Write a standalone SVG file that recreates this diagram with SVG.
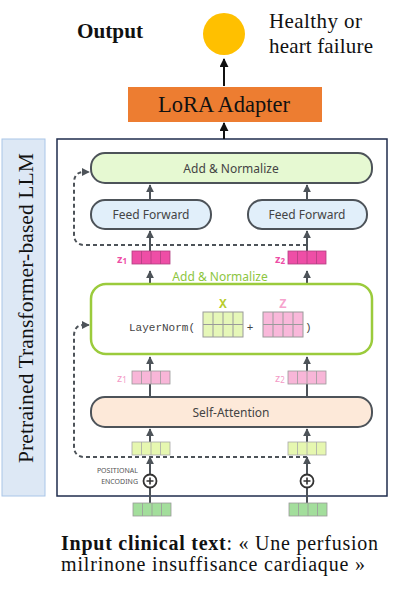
<svg xmlns="http://www.w3.org/2000/svg" xmlns:xlink="http://www.w3.org/1999/xlink" width="406" height="598" viewBox="0 0 406 598">
<style>
.serif{font-family:"Liberation Serif","Times New Roman",serif;fill:#111}
.sans{font-family:"Noto Sans","Open Sans",sans-serif;fill:#444;font-size:12px}
.box{stroke:#4d5359;stroke-width:2}
.arr{stroke:#4d5359;stroke-width:2;fill:none}
.dash{stroke:#4d5359;stroke-width:2;fill:none;stroke-dasharray:4 3}
.blk{stroke:#111;stroke-width:2;fill:none}
</style>
<defs>
<marker id="ah" viewBox="0 0 10 10" refX="9" refY="5" markerWidth="8" markerHeight="8" markerUnits="userSpaceOnUse" orient="auto"><path d="M0 0L10 5L0 10z" fill="#4d5359"/></marker>
<marker id="bh" viewBox="0 0 10 10" refX="9" refY="5" markerWidth="9" markerHeight="9" markerUnits="userSpaceOnUse" orient="auto"><path d="M0 0L10 5L0 10z" fill="#111"/></marker>
<g id="vec4"><rect width="38" height="13"/><path d="M9.5 0v13M19 0v13M28.5 0v13" fill="none"/></g>
<g id="mat"><rect width="40" height="25"/><path d="M10 0v25M20 0v25M30 0v25M0 12.5h40" fill="none"/></g>
</defs>
<rect width="406" height="598" fill="#fff"/>

<g id="llm-label">
<rect x="2" y="139" width="43" height="357" fill="#dde8f5" stroke="#a9c6e8" stroke-width="1"/>
<text class="serif" transform="translate(33 308) rotate(-90)" text-anchor="middle" font-size="21.5" textLength="310" lengthAdjust="spacing">Pretrained Transformer-based LLM</text>
</g>
<g id="main-box"><rect x="57" y="139" width="330" height="357" fill="#fff" stroke="#1f2d4d" stroke-width="1.5"/></g>

<g id="connectors">
<line class="blk" x1="224" y1="86" x2="224" y2="59" marker-end="url(#bh)"/>
<line class="blk" x1="224" y1="139" x2="224" y2="123" marker-end="url(#bh)"/>
<line class="arr" x1="150" y1="200" x2="150" y2="185" marker-end="url(#ah)"/>
<line class="arr" x1="307" y1="200" x2="307" y2="185" marker-end="url(#ah)"/>
<line class="arr" x1="150" y1="251" x2="150" y2="231" marker-end="url(#ah)"/>
<line class="arr" x1="307" y1="251" x2="307" y2="231" marker-end="url(#ah)"/>
<line class="arr" x1="150" y1="284" x2="150" y2="271" marker-end="url(#ah)"/>
<line class="arr" x1="307" y1="284" x2="307" y2="271" marker-end="url(#ah)"/>
<line class="arr" x1="150" y1="397" x2="150" y2="357" marker-end="url(#ah)"/>
<line class="arr" x1="307" y1="397" x2="307" y2="357" marker-end="url(#ah)"/>
<line class="arr" x1="150" y1="442" x2="150" y2="429" marker-end="url(#ah)"/>
<line class="arr" x1="307" y1="442" x2="307" y2="429" marker-end="url(#ah)"/>
<line class="arr" x1="150" y1="474" x2="150" y2="457" marker-end="url(#ah)"/>
<line class="arr" x1="307" y1="474" x2="307" y2="457" marker-end="url(#ah)"/>
<line class="arr" x1="150" y1="503" x2="150" y2="488"/>
<line class="arr" x1="307" y1="503" x2="307" y2="488"/>
<path class="dash" d="M307 245H85Q74 245 74 234V183Q74 172 84 172H89" marker-end="url(#ah)"/>
<path class="dash" d="M307 457H85Q74 457 74 446V336Q74 325 84 325H89" marker-end="url(#ah)"/>
</g>

<g id="output-label"><text class="serif" x="77" y="38" font-size="21" font-weight="bold" textLength="66" lengthAdjust="spacingAndGlyphs">Output</text></g>
<g id="output-node">
<circle cx="224" cy="34" r="21" fill="#ffc000"/>
<text class="serif" x="269" y="28" font-size="21" textLength="93" lengthAdjust="spacing">Healthy or</text>
<text class="serif" x="269" y="53" font-size="21" textLength="104" lengthAdjust="spacing">heart failure</text>
</g>
<g id="lora">
<rect x="128" y="87" width="194" height="35" fill="#ed7d31"/>
<text class="serif" x="224" y="112" text-anchor="middle" font-size="22.5" fill="#222">LoRA Adapter</text>
</g>

<g id="add-norm-top">
<rect class="box" x="91" y="153" width="281" height="30" rx="14" fill="#e6f9d2"/>
<text class="sans" x="231" y="172.5" text-anchor="middle">Add &amp; Normalize</text>
</g>
<g id="ff1">
<rect class="box" x="91" y="200" width="120" height="29" rx="14" fill="#e1effa"/>
<text class="sans" x="151" y="219" text-anchor="middle">Feed Forward</text>
</g>
<g id="ff2">
<rect class="box" x="248" y="200" width="119" height="29" rx="14" fill="#e1effa"/>
<text class="sans" x="307" y="219" text-anchor="middle">Feed Forward</text>
</g>
<g id="z1-top">
<text x="117" y="263" font-family="Noto Sans,sans-serif" font-size="11" font-weight="bold" fill="#ee4ea6">z<tspan font-size="8" dy="1">1</tspan></text>
<use xlink:href="#vec4" x="132" y="251" fill="#ee4ea6" stroke="#b04080" stroke-width="0.8"/>
</g>
<g id="z2-top">
<text x="275" y="263" font-family="Noto Sans,sans-serif" font-size="11" font-weight="bold" fill="#ee4ea6">z<tspan font-size="8" dy="1">2</tspan></text>
<use xlink:href="#vec4" x="288" y="251" fill="#ee4ea6" stroke="#b04080" stroke-width="0.8"/>
</g>
<g id="add-norm-label"><text x="220" y="281" text-anchor="middle" font-family="Noto Sans,sans-serif" font-size="12" fill="#8dc63f">Add &amp; Normalize</text></g>

<g id="layernorm">
<rect x="91" y="284" width="281" height="70" rx="15" fill="#fff" stroke="#9bcb3c" stroke-width="2.5"/>
<text x="129" y="331" font-family="Liberation Mono,monospace" font-size="11" fill="#444">LayerNorm(</text>
<text x="223" y="308" text-anchor="middle" font-family="Liberation Mono,monospace" font-size="13" font-weight="bold" fill="#b7cc2c">X</text>
<use xlink:href="#mat" x="203" y="312" fill="#e6f7b8" stroke="#9a9a9a" stroke-width="1"/>
<text x="250" y="331" text-anchor="middle" font-family="Liberation Mono,monospace" font-size="11" fill="#444">+</text>
<text x="283" y="308" text-anchor="middle" font-family="Liberation Mono,monospace" font-size="13" font-weight="bold" fill="#f6a3cd">Z</text>
<use xlink:href="#mat" x="263" y="312" fill="#f9b8da" stroke="#9a9a9a" stroke-width="1"/>
<text x="305" y="331" font-family="Liberation Mono,monospace" font-size="11" fill="#444">)</text>
</g>

<g id="z1">
<text x="117" y="382" font-family="Noto Sans,sans-serif" font-size="11" fill="#f39ac6">z<tspan font-size="8" dy="1">1</tspan></text>
<use xlink:href="#vec4" x="132" y="371" fill="#f8b6d8" stroke="#9a9a9a" stroke-width="0.8"/>
</g>
<g id="z2">
<text x="275" y="382" font-family="Noto Sans,sans-serif" font-size="11" fill="#f39ac6">z<tspan font-size="8" dy="1">2</tspan></text>
<use xlink:href="#vec4" x="288" y="371" fill="#f8b6d8" stroke="#9a9a9a" stroke-width="0.8"/>
</g>

<g id="self-attn">
<rect class="box" x="91" y="397" width="281" height="30" rx="14" fill="#fde9d9"/>
<text class="sans" x="231" y="416.5" text-anchor="middle">Self-Attention</text>
</g>
<g id="x1"><use xlink:href="#vec4" x="132" y="442" fill="#e6f7b0" stroke="#a8a8a8" stroke-width="0.8"/></g>
<g id="x2"><use xlink:href="#vec4" x="288" y="442" fill="#e6f7b0" stroke="#a8a8a8" stroke-width="0.8"/></g>

<g id="pe1">
<text x="138" y="473" text-anchor="end" font-family="Noto Sans,sans-serif" font-size="7" fill="#555">POSITIONAL</text>
<text x="138" y="484" text-anchor="end" font-family="Noto Sans,sans-serif" font-size="7" fill="#555">ENCODING</text>
<circle cx="150" cy="481" r="6.5" fill="#fff" stroke="#333" stroke-width="1.8"/>
<path d="M146.5 481h7M150 477.5v7" stroke="#333" stroke-width="1.6"/>
</g>
<g id="pe2">
<circle cx="307" cy="481" r="6.5" fill="#fff" stroke="#333" stroke-width="1.8"/>
<path d="M303.5 481h7M307 477.5v7" stroke="#333" stroke-width="1.6"/>
</g>
<g id="in1"><use xlink:href="#vec4" x="133" y="503" fill="#a3de9c" stroke="#9a9a9a" stroke-width="0.8"/></g>
<g id="in2"><use xlink:href="#vec4" x="289" y="503" fill="#a3de9c" stroke="#9a9a9a" stroke-width="0.8"/></g>

<g id="input-text">
<text class="serif" x="61" y="550" font-size="20" textLength="317" lengthAdjust="spacing"><tspan font-weight="bold">Input clinical text</tspan>: « Une perfusion</text>
<text class="serif" x="61" y="571" font-size="20" textLength="304" lengthAdjust="spacing">milrinone insuffisance cardiaque »</text>
</g>
</svg>
